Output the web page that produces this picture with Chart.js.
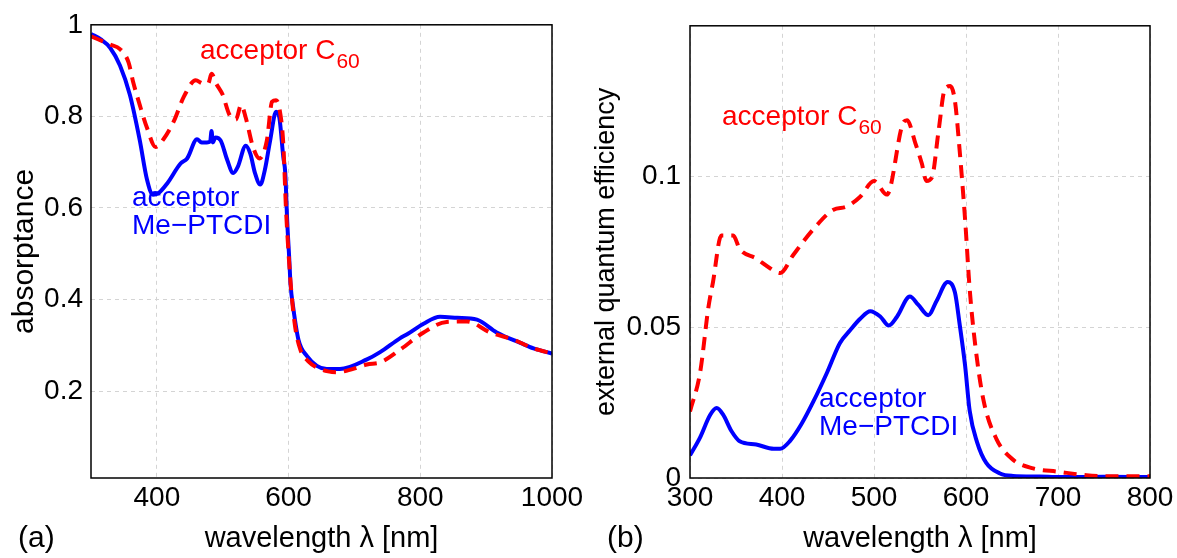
<!DOCTYPE html>
<html>
<head>
<meta charset="utf-8">
<script src="https://cdn.jsdelivr.net/npm/chart.js@4"></script>
<style>
    body { margin: 0; background: #fff; }
    #page { position: relative; width: 1177px; height: 558px; overflow: hidden; font-family: "Liberation Sans", Arial, sans-serif; }
    .box { position: absolute; top: 0; height: 558px; }
    .note { position: absolute; font-size: 28px; line-height: 28px; white-space: nowrap; }
    .note sub { font-size: 21px; vertical-align: -9px; margin-left: 1px; }
    .red { color: #ff0000; }
    .blue { color: #0000ff; }
    .panel { position: absolute; font-size: 30px; line-height: 30px; color: #000; }
</style>
</head>
<body>
<div id="page">
    <div class="box" style="left:0; width:590px;"><canvas id="absChart"></canvas></div>
    <div class="box" style="left:590px; width:587px;"><canvas id="eqeChart"></canvas></div>

    <div class="note red" style="left:200px; top:36px;">acceptor C<sub>60</sub></div>
    <div class="note blue" style="left:132px; top:183px;">acceptor<br>Me&minus;PTCDI</div>
    <div class="note red" style="left:722px; top:102px;">acceptor C<sub>60</sub></div>
    <div class="note blue" style="left:819px; top:384px;">acceptor<br>Me&minus;PTCDI</div>

    <div class="panel" style="left:18px; top:522px;">(a)</div>
    <div class="panel" style="left:607px; top:522px;">(b)</div>
</div>

<script>
// (a) absorptance
const absTicksX = [400, 600, 800, 1000];
const absTicksY = [0.2, 0.4, 0.6, 0.8, 1];

const absLambdaPtcdi = [300, 315, 329, 344, 359, 374, 385, 394, 403, 416, 436, 446, 461, 468, 476, 481, 483, 485, 489, 497, 507, 516, 523, 535, 542, 549, 557, 564, 572, 581, 586, 592, 595, 598, 601, 603, 607, 615, 628, 643, 658, 678, 719, 739, 769, 780, 805, 830, 856, 886, 916, 952, 972, 1000];
const absPtcdi = [0.98, 0.968, 0.950, 0.911, 0.847, 0.748, 0.662, 0.629, 0.633, 0.654, 0.697, 0.708, 0.750, 0.743, 0.743, 0.745, 0.768, 0.743, 0.754, 0.747, 0.704, 0.676, 0.690, 0.736, 0.718, 0.676, 0.651, 0.683, 0.747, 0.810, 0.797, 0.711, 0.676, 0.569, 0.49, 0.433, 0.383, 0.312, 0.276, 0.255, 0.248, 0.248, 0.269, 0.285, 0.315, 0.324, 0.347, 0.362, 0.360, 0.356, 0.328, 0.305, 0.293, 0.282];

const absLambdaC60 = [300, 329, 344, 357, 364, 374, 385, 398, 410, 426, 441, 459, 470, 478, 483, 490, 500, 510, 520, 528, 535, 546, 556, 567, 575, 581, 586, 592, 596, 600, 604, 610, 618, 630, 645, 660, 673, 690, 719, 740, 769, 805, 840, 871, 906, 942, 972, 1000];
const absC60 = [0.975, 0.957, 0.947, 0.918, 0.875, 0.825, 0.775, 0.733, 0.750, 0.790, 0.843, 0.879, 0.872, 0.872, 0.893, 0.872, 0.847, 0.804, 0.793, 0.825, 0.797, 0.733, 0.708, 0.747, 0.832, 0.835, 0.818, 0.74, 0.6, 0.5, 0.42, 0.34, 0.29, 0.265, 0.25, 0.243, 0.241, 0.245, 0.258, 0.263, 0.29, 0.328, 0.351, 0.352, 0.328, 0.312, 0.293, 0.282];

// (b) external quantum efficiency
const eqeTicksX = [300, 400, 500, 600, 700, 800];
const eqeTicksY = [0, 0.05, 0.1];

const eqeLambdaPtcdi = [300, 311, 322, 329, 336, 345, 354, 372, 391, 398, 409, 421, 434, 449, 463, 474, 485, 496, 507, 516, 525, 539, 548, 559, 568, 580, 588, 593, 599, 604, 612, 622, 637, 651, 680, 702, 750, 800];
const eqePtcdi = [0.0075, 0.0135, 0.021, 0.0232, 0.021, 0.0156, 0.0122, 0.0111, 0.0097, 0.0097, 0.0124, 0.0178, 0.0253, 0.035, 0.0448, 0.049, 0.0528, 0.0553, 0.0535, 0.0506, 0.0535, 0.0602, 0.0575, 0.054, 0.0587, 0.065, 0.0615, 0.0512, 0.0373, 0.0223, 0.0119, 0.005, 0.0015, 0.0007, 0.0005, 0.0003, 0.0004, 0.0003];

const eqeLambdaC60 = [300, 311, 320, 325, 334, 347, 354, 372, 387, 398, 412, 434, 456, 470, 485, 500, 514, 532, 536, 545, 552, 557, 563, 570, 577, 583, 588, 593, 599, 604, 610, 619, 633, 651, 673, 700, 731, 756, 800];
const eqeC60 = [0.0221, 0.035, 0.0566, 0.065, 0.0804, 0.0804, 0.076, 0.0728, 0.0696, 0.068, 0.0739, 0.0825, 0.089, 0.090, 0.0933, 0.0985, 0.094, 0.118, 0.1187, 0.111, 0.1043, 0.0985, 0.0997, 0.1147, 0.129, 0.130, 0.125, 0.109, 0.0858, 0.0627, 0.0442, 0.0258, 0.013, 0.0061, 0.0032, 0.0021, 0.0009, 0.0006, 0.0006];

const FONT = '"Liberation Sans", Arial, sans-serif';

function toPoints(xs, ys) {
    return xs.map((x, i) => ({ x: x, y: ys[i] }));
}

// black box around the plot area, like matlab's axes
const framePlugin = {
    id: 'frame',
    afterDatasetsDraw(chart) {
        const a = chart.chartArea;
        const ctx = chart.ctx;
        ctx.save();
        ctx.strokeStyle = '#000';
        ctx.lineWidth = 1.5;
        ctx.strokeRect(a.left, a.top, a.right - a.left, a.bottom - a.top);
        ctx.restore();
    }
};

function makeChart(id, cfg) {
    return new Chart(document.getElementById(id), {
        type: 'line',
        data: {
            datasets: [
                {
                    data: toPoints(cfg.xRed, cfg.yRed),
                    borderColor: '#ff0000',
                    borderWidth: 4,
                    borderDash: [13, 8],
                    pointRadius: 0,
                    cubicInterpolationMode: 'monotone'
                },
                {
                    data: toPoints(cfg.xBlue, cfg.yBlue),
                    borderColor: '#0000ff',
                    borderWidth: 4,
                    pointRadius: 0,
                    cubicInterpolationMode: 'monotone'
                }
            ]
        },
        options: {
            responsive: true,
            maintainAspectRatio: false,
            animation: false,
            layout: { padding: cfg.padding },
            plugins: { legend: { display: false }, tooltip: { enabled: false } },
            scales: {
                x: {
                    type: 'linear',
                    min: cfg.xMin,
                    max: cfg.xMax,
                    afterBuildTicks: s => { s.ticks = cfg.xTicks.map(v => ({ value: v })); },
                    afterFit: s => { s.height = 80; },
                    grid: { color: '#d4d4d4', lineWidth: 1, drawTicks: false },
                    border: { display: false, dash: [4, 4] },
                    ticks: { color: '#000', padding: 3, maxRotation: 0, font: { family: FONT, size: 28 }, callback: v => String(v) },
                    title: {
                        display: true,
                        text: 'wavelength \u03bb [nm]',
                        color: '#000',
                        padding: { top: 0, bottom: 2 },
                        font: { family: FONT, size: 29 }
                    }
                },
                y: {
                    min: cfg.yMin,
                    max: cfg.yMax,
                    afterBuildTicks: s => { s.ticks = cfg.yTicks.map(v => ({ value: v })); },
                    afterFit: s => { s.width = cfg.yWidth; },
                    grid: { color: '#d4d4d4', lineWidth: 1, drawTicks: false },
                    border: { display: false, dash: [4, 4] },
                    ticks: { color: '#000', padding: cfg.yPad, font: { family: FONT, size: 28 }, callback: v => String(v) },
                    title: {
                        display: true,
                        text: cfg.yTitle,
                        color: '#000',
                        padding: { top: cfg.yTitlePad, bottom: 0 },
                        font: { family: FONT, size: cfg.yTitleSize }
                    }
                }
            }
        },
        plugins: [framePlugin]
    });
}

makeChart('absChart', {
    xRed: absLambdaC60, yRed: absC60,
    xBlue: absLambdaPtcdi, yBlue: absPtcdi,
    xMin: 300, xMax: 1000, xTicks: absTicksX,
    yMin: 0.01, yMax: 1, yTicks: absTicksY,
    yWidth: 91, yPad: 8, yTitlePad: 7, yTitleSize: 30,
    yTitle: 'absorptance',
    padding: { left: 0, top: 15, right: 38, bottom: 0 }
});

makeChart('eqeChart', {
    xRed: eqeLambdaC60, yRed: eqeC60,
    xBlue: eqeLambdaPtcdi, yBlue: eqePtcdi,
    xMin: 300, xMax: 800, xTicks: eqeTicksX,
    yMin: 0, yMax: 0.15, yTicks: eqeTicksY,
    yWidth: 100, yPad: 9, yTitlePad: 0, yTitleSize: 27,
    yTitle: 'external quantum efficiency',
    padding: { left: 0, top: 15, right: 27, bottom: 0 }
});
</script>
</body>
</html>
